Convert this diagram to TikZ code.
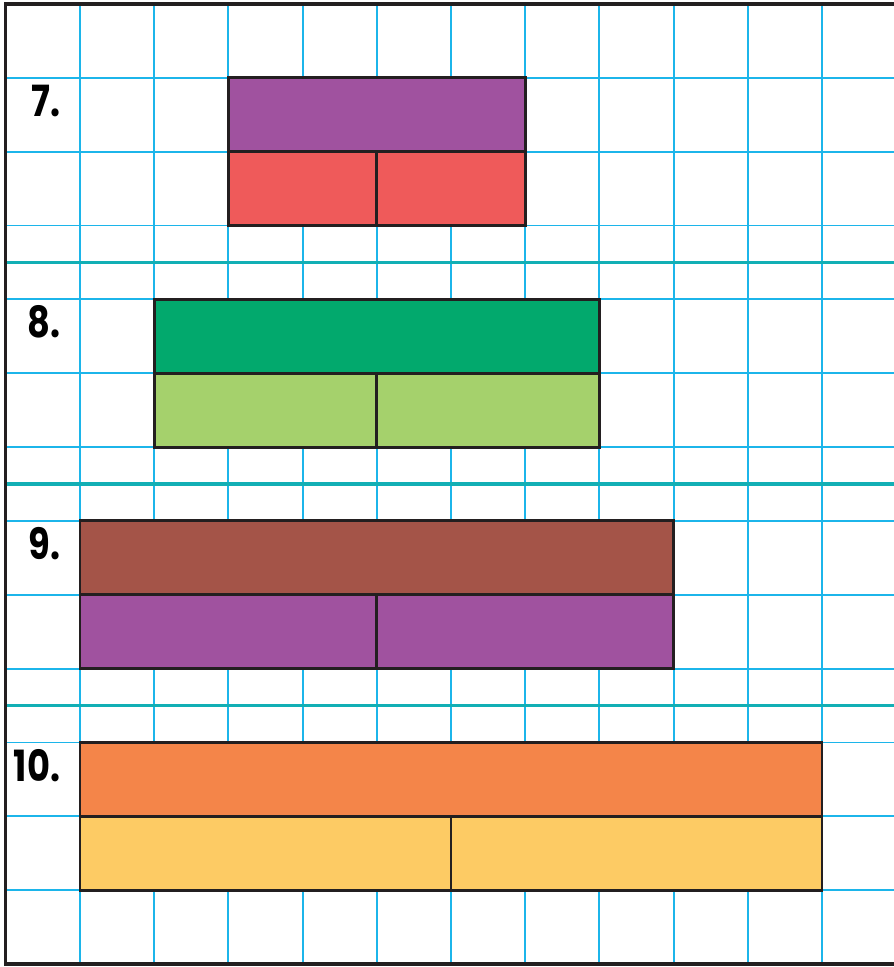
\documentclass[tikz,border=0pt]{standalone}
\usepackage{graphicx}
\usepackage{fontspec}
\newfontfamily\numfont{Poppins}
\usetikzlibrary{positioning}

\definecolor{gridblue}{HTML}{1CB5EA}
\definecolor{septeal}{HTML}{12AFB5}
\definecolor{barpurple}{HTML}{A0529F}
\definecolor{barred}{HTML}{EF5A5A}
\definecolor{bargreen}{HTML}{02A96D}
\definecolor{barlime}{HTML}{A5D16C}
\definecolor{barbrown}{HTML}{A45448}
\definecolor{barorange}{HTML}{F48549}
\definecolor{baryellow}{HTML}{FDCB64}
\definecolor{edgegray}{HTML}{231F20}

\begin{document}
\begin{tikzpicture}[y=0.9953cm,
		gridline/.style={gridblue,line width=0.7pt},
		sepline/.style={septeal,line width=1.3pt},
		bar/.style={draw=edgegray,line width=1.1pt},
		num/.style={anchor=east,inner sep=0pt,font=\numfont\bfseries\fontsize{16.5}{20}\selectfont}]
				\useasboundingbox (-0.078,-0.04) rectangle (11.97,13.054);

				\foreach \x in {1,...,11}
				{
					\draw[gridline] (\x,0)--(\x,13);
				}

				\foreach \y in {1,...,12}
				{
					\draw[gridline] (0,\y)--(12,\y);
				}

				\foreach \y in {3.5,6.5,9.5}
				{
					\draw[sepline] (0,\y)--(12,\y);
				}

				\foreach \xl/\xm/\xr/\y/\topc/\botc/\n in
				{3/5/7/10/barpurple/barred/7,
				 2/5/8/7/bargreen/barlime/8,
				 1/5/9/4/barbrown/barpurple/9,
				 1/6/11/1/barorange/baryellow/10}
				{
					\draw[bar,fill=\topc] (\xl,\y+1) rectangle (\xr,\y+2);
					\draw[bar,fill=\botc] (\xl,\y) rectangle (\xm,\y+1);
					\draw[bar,fill=\botc] (\xm,\y) rectangle (\xr,\y+1);
					\node[num] (n\n) at (0.74,\y+1.69) {\scalebox{0.82}[1]{\n.}};
				}

				\draw[edgegray,line width=1.3pt]
				(12,13)--(0,13)--(0,0)--(12,0);
			\end{tikzpicture}
\end{document}
